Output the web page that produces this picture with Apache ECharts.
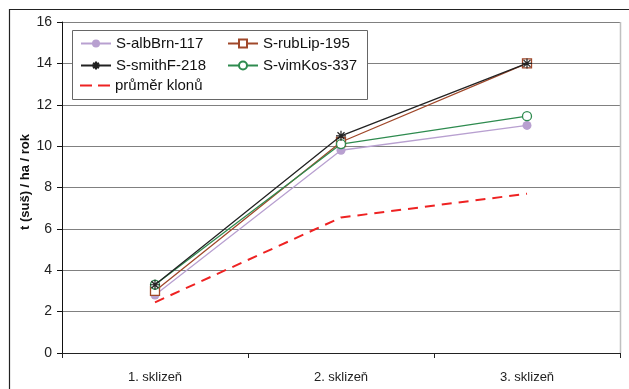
<!DOCTYPE html>
<html><head><meta charset="utf-8">
<script src="https://cdn.jsdelivr.net/npm/echarts@6/dist/echarts.min.js"></script>
<style>html,body{margin:0;padding:0;background:#fff}#c{width:629px;height:389px}</style>
</head><body><div id="c"></div>
<script>
var categories = ['1. sklizeň', '2. sklizeň', '3. sklizeň'];
var albBrn = [2.8, 9.8, 11.0];
var rubLip = [3.0, 10.2, 14.0];
var smithF = [3.3, 10.5, 14.0];
var vimKos = [3.3, 10.1, 11.45];
var prumer = [2.45, 6.55, 7.7];
var yTicks = [0, 2, 4, 6, 8, 10, 12, 14, 16];
var yName = 't (suš) / ha / rok';

var FONT = '"Liberation Sans", Arial, sans-serif';
var star = 'path://M0,5L10,5M5,0L5,10M1.5,1.5L8.5,8.5M8.5,1.5L1.5,8.5';
var dashIcon = 'path://M0,0L12,0L12,2L0,2ZM18,0L30,0L30,2L18,2Z';
var chart = echarts.init(document.getElementById('c'), null, {renderer: 'canvas'});
var legendText = {fontFamily: FONT, fontSize: 15, color: '#111', lineHeight: 14};
chart.setOption({
  animation: false,
  backgroundColor: '#fff',
  grid: {left: 62, right: 9, top: 22, bottom: 36},
  xAxis: {
    type: 'category', data: categories, boundaryGap: true,
    axisLine: {lineStyle: {color: '#222', width: 1}},
    axisTick: {show: true, length: 5, lineStyle: {color: '#222'}},
    axisLabel: {fontFamily: FONT, fontSize: 13, color: '#222', margin: 18},
    splitLine: {show: false}
  },
  yAxis: {
    type: 'value', min: yTicks[0], max: yTicks[yTicks.length - 1], interval: 2,
    axisLine: {show: true, lineStyle: {color: '#111', width: 1}},
    axisTick: {show: true, length: 5, lineStyle: {color: '#111'}},
    axisLabel: {fontFamily: FONT, fontSize: 14, color: '#222', margin: 10},
    splitLine: {show: true, lineStyle: {color: '#808080', width: 1}}
  },
  legend: [
    {orient: 'vertical', left: 80, top: 36, padding: 0, itemWidth: 30, itemHeight: 10, itemGap: 7,
     textStyle: legendText, data: ['S-albBrn-117', 'S-smithF-218'], z: 10},
    {orient: 'vertical', left: 227, top: 36, padding: 0, itemWidth: 30, itemHeight: 10, itemGap: 7,
     textStyle: legendText, data: ['S-rubLip-195', 'S-vimKos-337'], z: 10},
    {orient: 'vertical', left: 80, top: 78, padding: 0, itemWidth: 30, itemHeight: 2, itemGap: 7,
     textStyle: legendText, data: [{name: 'průměr klonů', icon: dashIcon}], z: 10}
  ],
  graphic: [
    {type: 'rect', shape: {x: 9.5, y: 9.5, width: 700, height: 500}, style: {fill: null, stroke: '#222', lineWidth: 1.2}, z: 0, silent: true},
    {type: 'rect', shape: {x: 72.5, y: 30.5, width: 295, height: 69}, style: {fill: '#fff', stroke: '#666', lineWidth: 1}, z: 5, silent: true},
    {type: 'line', shape: {x1: 620.5, y1: 22, x2: 620.5, y2: 353}, style: {stroke: '#c0c0c0', lineWidth: 1.5}, z: 1, silent: true},
    {type: 'text', x: 25, y: 182, rotation: Math.PI / 2, silent: true,
     style: {text: yName, font: 'bold 13px ' + FONT, fill: '#111', align: 'center', verticalAlign: 'middle'}}
  ],
  series: [
    {name: 'S-albBrn-117', type: 'line', data: albBrn, symbol: 'circle', symbolSize: 9,
     lineStyle: {color: '#b8a0d0', width: 1.3}, itemStyle: {color: '#b8a0d0'}, z: 2},
    {name: 'S-rubLip-195', type: 'line', data: rubLip, symbol: 'rect', symbolSize: 9,
     lineStyle: {color: '#a0482a', width: 1.3}, itemStyle: {color: '#fff', borderColor: '#a0482a', borderWidth: 1.3}, z: 3},
    {name: 'S-smithF-218', type: 'line', data: smithF, symbol: star, symbolSize: 10,
     lineStyle: {color: '#222', width: 1.3}, itemStyle: {color: '#222', borderColor: '#222', borderWidth: 1.2}, z: 4},
    {name: 'S-vimKos-337', type: 'line', data: vimKos, symbol: 'circle', symbolSize: 9,
     lineStyle: {color: '#2e8b4f', width: 1.3}, itemStyle: {color: '#fff', borderColor: '#2e8b4f', borderWidth: 1.3}, z: 3},
    {name: 'průměr klonů', type: 'line', data: prumer, symbol: 'none', showSymbol: false,
     lineStyle: {color: '#ee2222', width: 2, type: [10, 7]}, itemStyle: {color: '#ee2222'}, z: 2}
  ]
});
</script></body></html>
